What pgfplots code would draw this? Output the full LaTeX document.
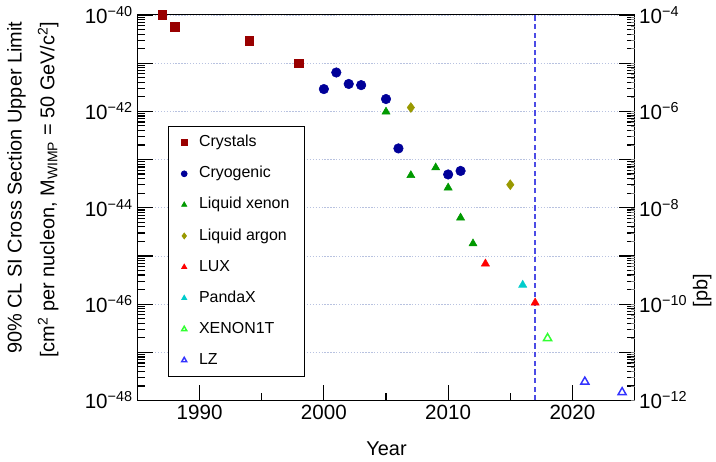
\documentclass[border=0pt]{standalone}
\usepackage{fontspec}
\setmainfont{Liberation Sans}
\usepackage{pgfplots}
\pgfplotsset{compat=1.18}

\definecolor{crys}{rgb}{0.6,0,0}
\definecolor{cryo}{rgb}{0,0,0.6}
\definecolor{lxe}{rgb}{0,0.6,0}
\definecolor{lar}{rgb}{0.6,0.6,0}
\definecolor{lux}{rgb}{1,0,0}
\definecolor{panda}{rgb}{0,0.8,0.8}
\definecolor{xeoneT}{rgb}{0.2,1,0.2}
\definecolor{lz}{rgb}{0.2,0.2,1}
\definecolor{gridc}{rgb}{0.72,0.76,0.88}
\definecolor{dashc}{rgb}{0.3,0.3,0.9}

\newcommand{\ticksize}{\fontsize{15.5}{18}\selectfont}
\newcommand{\tn}[1]{10\textsuperscript{−#1}}

% minor log ticks 2..9 per decade
\gdef\minorleft{}
\foreach \e in {-48,...,-41}{\foreach \m in {2,...,9}{\xdef\minorleft{\minorleft\m e\e,}}}

\begin{document}
\begin{tikzpicture}
\begin{axis}[
  at={(0,0)}, anchor=south west, scale only axis,
  width=374.25pt, height=290.25pt,
  xmin=1985, xmax=2025,
  ymode=log, ymin=1e-48, ymax=1e-40,
  ytickten={-48,...,-40},
  yticklabels={\tn{48},,\tn{46},,\tn{44},,\tn{42},,\tn{40}},
  minor ytick/.expanded={\minorleft 1e-40},
  xtick={1990,2000,2010,2020},
  xticklabels={1990,2000,2010,2020},
  minor xtick={1995,2005,2015},
  xtick pos=left,
  xticklabel pos=lower, yticklabel pos=left,
  tick align=inside,
  major tick length=12pt, minor tick length=6pt,
  tick style={black, line width=0.9pt},
  tick label style={font=\ticksize},
  ymajorgrids,
  major grid style={gridc, line width=0.5pt, dash pattern=on 1pt off 1.2pt},
  axis line style={line width=0.8pt},
  legend cell align=left,
  legend image code/.code={\draw[#1, mark size=2.2pt] plot coordinates {(0cm,0cm)};},
  legend style={at={(rel axis cs:0.062,0.711)}, anchor=north west,
    draw=black, line width=0.6pt, font=\fontsize{12}{14}\selectfont,
    inner xsep=9.5pt, inner ysep=4.5pt, row sep=8.4pt,
    nodes={inner sep=2pt, text height=8.6pt, text depth=2.4pt},
    /tikz/every odd column/.append style={column sep=7pt}},
]
\addplot[only marks, mark=square*, mark size=3.3pt, color=crys] coordinates {
  (1987,1.0e-40) (1988,5.6e-41) (1994,2.9e-41) (1998,1.0e-41)
};
\addlegendentry{Crystals}
\addplot[only marks, mark=*, mark size=3.6pt, color=cryo] coordinates {
  (2000,2.9e-42) (2001,6.4e-42) (2002,3.7e-42) (2003,3.5e-42)
  (2005,1.8e-42) (2006,1.7e-43) (2010,4.9e-44) (2011,5.8e-44)
};
\addlegendentry{Cryogenic}
\addplot[only marks, mark=triangle*, mark size=3.5pt, color=lxe] coordinates {
  (2005,9.8e-43) (2007,4.7e-44) (2009,6.8e-44) (2010,2.6e-44)
  (2011,6.2e-45) (2012,1.8e-45)
};
\addlegendentry{Liquid xenon}
\addplot[only marks, mark=diamond*, mark size=3.7pt, color=lar] coordinates {
  (2007,1.2e-42) (2015,3.0e-44)
};
\addlegendentry{Liquid argon}
\addplot[only marks, mark=triangle*, mark size=3.5pt, color=lux] coordinates {
  (2013,6.9e-46) (2017,1.07e-46)
};
\addlegendentry{LUX}
\addplot[only marks, mark=triangle*, mark size=3.5pt, color=panda] coordinates {
  (2016,2.5e-46)
};
\addlegendentry{PandaX}
\addplot[only marks, mark=triangle, mark size=3.5pt, color=xeoneT, line width=1.1pt] coordinates {
  (2018,1.96e-47)
};
\addlegendentry{XENON1T}
\addplot[only marks, mark=triangle, mark size=3.5pt, color=lz, line width=1.1pt] coordinates {
  (2021,2.45e-48) (2024,1.48e-48)
};
\addlegendentry{LZ}
\addplot[draw=dashc, color=dashc, no marks, line width=1pt, dash pattern=on 4pt off 2.5pt, forget plot] coordinates {
  (2017,1e-48) (2017,1e-40)
};
\end{axis}
\begin{axis}[
  at={(0,0)}, anchor=south west, scale only axis,
  width=374.25pt, height=290.25pt,
  xmin=1985, xmax=2025,
  ymode=log, ymin=1e-12, ymax=1e-4,
  hide x axis, axis y line*=right,
  ytickten={-12,...,-4},
  yticklabels={\tn{12},,\tn{10},,\tn{8},,\tn{6},,\tn{4}},
  major tick length=0pt,
  tick label style={font=\ticksize},
  axis line style={draw=none},
]
\addplot[draw=none] coordinates {(2000,1e-8)};
\end{axis}
\node[rotate=90, anchor=east, align=right, font=\fontsize{15}{24.75}\selectfont]
  at (-78.75pt,288.75pt)
  {90\% CL SI Cross Section Upper Limit\\
   {[}cm\textsuperscript{2} per nucleon, M\textsubscript{WIMP} = 50 GeV/c\textsuperscript{2}]};
\node[rotate=90, font=\fontsize{15}{18}\selectfont] at (425.25pt,82.5pt) {[pb]};
\node[font=\fontsize{15}{18}\selectfont] at (187.5pt,-36pt) {Year};
\path (-103.5pt,-45.75pt) rectangle (433.5pt,301.5pt);
\end{tikzpicture}
\end{document}
